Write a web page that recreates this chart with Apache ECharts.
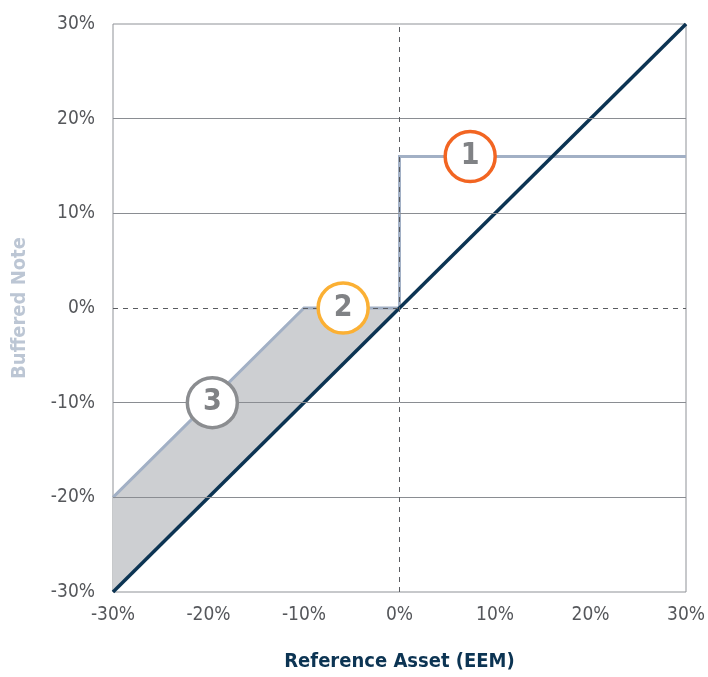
<!DOCTYPE html>
<html>
<head>
<meta charset="utf-8">
<script src="https://cdn.jsdelivr.net/npm/echarts@6/dist/echarts.min.js"></script>
<style>html,body{margin:0;padding:0;background:#fff}#c{width:708px;height:677px}</style>
</head>
<body>
<div id="c"></div>
<script>
// ---- data ----
const tickValues = [-30, -20, -10, 0, 10, 20, 30];
const referenceX = [-30, 30];
const referenceY = [-30, 30];
const noteX = [-30, -10, 0, 0, 30];
const noteY = [-20, 0, 0, 16, 16];
const bufferZoneX = [-30, -30, -10, 0];
const bufferZoneY = [-30, -20, 0, 0];
const markerLabels = ['1', '2', '3'];
const markerX = [7.4, -5.9, -19.6];
const markerY = [16, 0, -10];
const markerColors = ['#f26522', '#fbb034', '#8b8d90'];
const xAxisTitle = 'Reference Asset (EEM)';
const yAxisTitle = 'Buffered Note';

const FONT = '"Liberation Sans Narrow", "DejaVu Sans Condensed", sans-serif';
const zip = (a, b) => a.map((v, i) => [v, b[i]]);

const solidGrid = tickValues.filter(v => v !== 0 && Math.abs(v) !== 30).map(v => ({
  yAxis: v, lineStyle: { color: '#8a8d92', width: 1, type: 'solid' }
}));
const dashedZero = [
  { yAxis: 0, lineStyle: { color: '#5a5c60', width: 1, type: [5, 5] } },
  { xAxis: 0, lineStyle: { color: '#5a5c60', width: 1, type: [5, 5] } }
];

const chart = echarts.init(document.getElementById('c'), null, { renderer: 'canvas' });
chart.setOption({
  animation: false,
  grid: { left: 113, right: 22, top: 24, bottom: 80, show: true, borderColor: '#8f9297', borderWidth: 1, backgroundColor: 'transparent' },
  xAxis: {
    type: 'value', min: -30, max: 30, interval: 10,
    axisLine: { show: false },
    axisTick: { show: false },
    splitLine: { show: false },
    axisLabel: { formatter: '{value}%', color: '#55575b', fontSize: 19, fontFamily: FONT, margin: 14 },
    name: xAxisTitle, nameLocation: 'middle', nameGap: 60,
    nameTextStyle: { color: '#0c3453', fontSize: 20, fontWeight: 'bold', fontFamily: FONT }
  },
  yAxis: {
    type: 'value', min: -30, max: 30, interval: 10,
    axisLine: { show: false },
    axisTick: { show: false },
    splitLine: { show: false },
    axisLabel: { formatter: '{value}%', color: '#55575b', fontSize: 19, fontFamily: FONT, margin: 18 },
    name: yAxisTitle, nameLocation: 'middle', nameGap: 83,
    nameTextStyle: { color: '#bcc6d4', fontSize: 20, fontWeight: 'bold', fontFamily: FONT }
  },
  series: [
    {
      type: 'custom',
      z: 1,
      renderItem: function (params, api) {
        const pts = bufferZoneX.map((x, i) => api.coord([x, bufferZoneY[i]]));
        return { type: 'polygon', shape: { points: pts }, style: { fill: '#cdcfd2' } };
      },
      data: [0],
      silent: true
    },
    {
      type: 'line',
      z: 2,
      data: [],
      markLine: {
        silent: true, symbol: 'none', label: { show: false },
        data: solidGrid.concat(dashedZero)
      }
    },
    {
      type: 'line',
      z: 3,
      data: zip(noteX, noteY),
      showSymbol: false,
      lineStyle: { color: '#a2b0c5', width: 3, join: 'miter' }
    },
    {
      type: 'line',
      z: 4,
      data: zip(referenceX, referenceY),
      showSymbol: false,
      lineStyle: { color: '#0c3453', width: 3.5 }
    },
    {
      type: 'scatter',
      z: 5,
      symbol: 'circle',
      symbolSize: 50,
      silent: true,
      data: markerX.map((x, i) => ({
        value: [x, markerY[i]],
        name: markerLabels[i],
        itemStyle: { color: '#ffffff', opacity: 1, borderColor: markerColors[i], borderWidth: 3.5 }
      })),
      label: {
        show: true, position: 'inside', formatter: '{b}',
        color: '#808285', fontSize: 30, fontWeight: 'bold', fontFamily: FONT
      }
    }
  ]
});
</script>
</body>
</html>
